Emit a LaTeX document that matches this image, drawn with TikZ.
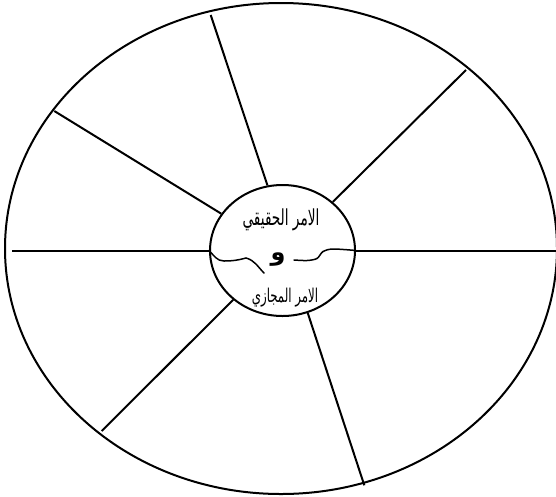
\documentclass[tikz,border=0pt]{standalone}
\usepackage{fontspec}
\TeXXeTstate=1
\newfontfamily\arabicfont[Script=Arabic,FakeStretch=0.62]{DejaVu Sans}
\newfontfamily\conjfont[Script=Arabic]{DejaVu Sans}
\usetikzlibrary{shapes.geometric}
\tikzset{
  rim/.style={draw=black,ellipse,line width=2pt,inner sep=0pt,minimum width=552pt,minimum height=491pt},
  hub/.style={draw=black,ellipse,line width=2pt,inner sep=0pt,minimum width=145pt,minimum height=131pt},
  spoke/.style={draw=black,line width=2pt},
  wave/.style={draw=black,line width=1.5pt,line cap=round},
  arabtext/.style={inner sep=0pt,font=\arabicfont\fontsize{22}{24}\selectfont},
  conjtext/.style={inner sep=0pt,font=\conjfont\bfseries\fontsize{24}{26}\selectfont}
}

\begin{document}
\begin{tikzpicture}[x=1pt,y=-1pt]
  \useasboundingbox (0,0) rectangle (556,496);
  \node[rim] (rim) at (281,248.5) {};
  \node[hub] (hub) at (282.5,250.5) {};
  % outer ends of the spokes
  \coordinate (endtop) at (210.7,15);
  \coordinate (endupright) at (466,70);
  \coordinate (endupleft) at (54.3,111);
  \coordinate (endleft) at (11.7,250.5);
  \coordinate (endright) at (556,250.5);
  \coordinate (endlowleft) at (101.7,431);
  \coordinate (endlowright) at (364.3,485.3);
  \draw[spoke] (hub.103.9) -- (endtop);
  \draw[spoke] (hub.44.2) -- (endupright);
  \draw[spoke] (hub.149.7) -- (endupleft);
  \draw[spoke] (hub.180) -- (endleft);
  \draw[spoke] (hub.0) -- (endright);
  \draw[spoke] (hub.225.6) -- (endlowleft);
  \draw[spoke] (hub.292) -- (endlowright);
  % wavy divider
  \draw[wave] (hub.180) to[out=-45,in=180] (224,261) to[out=0,in=195] (246,258) to[out=-15,in=135] (264,273);
  \draw[wave] plot[smooth] coordinates {(294,260) (307,260.5) (317,258.5) (323,251.5) (333,249) (hub.0)};
  \node[arabtext] (realcmd) at (281,220) {\beginR الامر الحقيقي\endR};
  \node[conjtext] (conj) at (278,260) {\beginR و\endR};
  \node[arabtext,font=\arabicfont\fontsize{19}{21}\selectfont] (figcmd) at (285,298) {\beginR الامر المجازي\endR};
\end{tikzpicture}
\end{document}
